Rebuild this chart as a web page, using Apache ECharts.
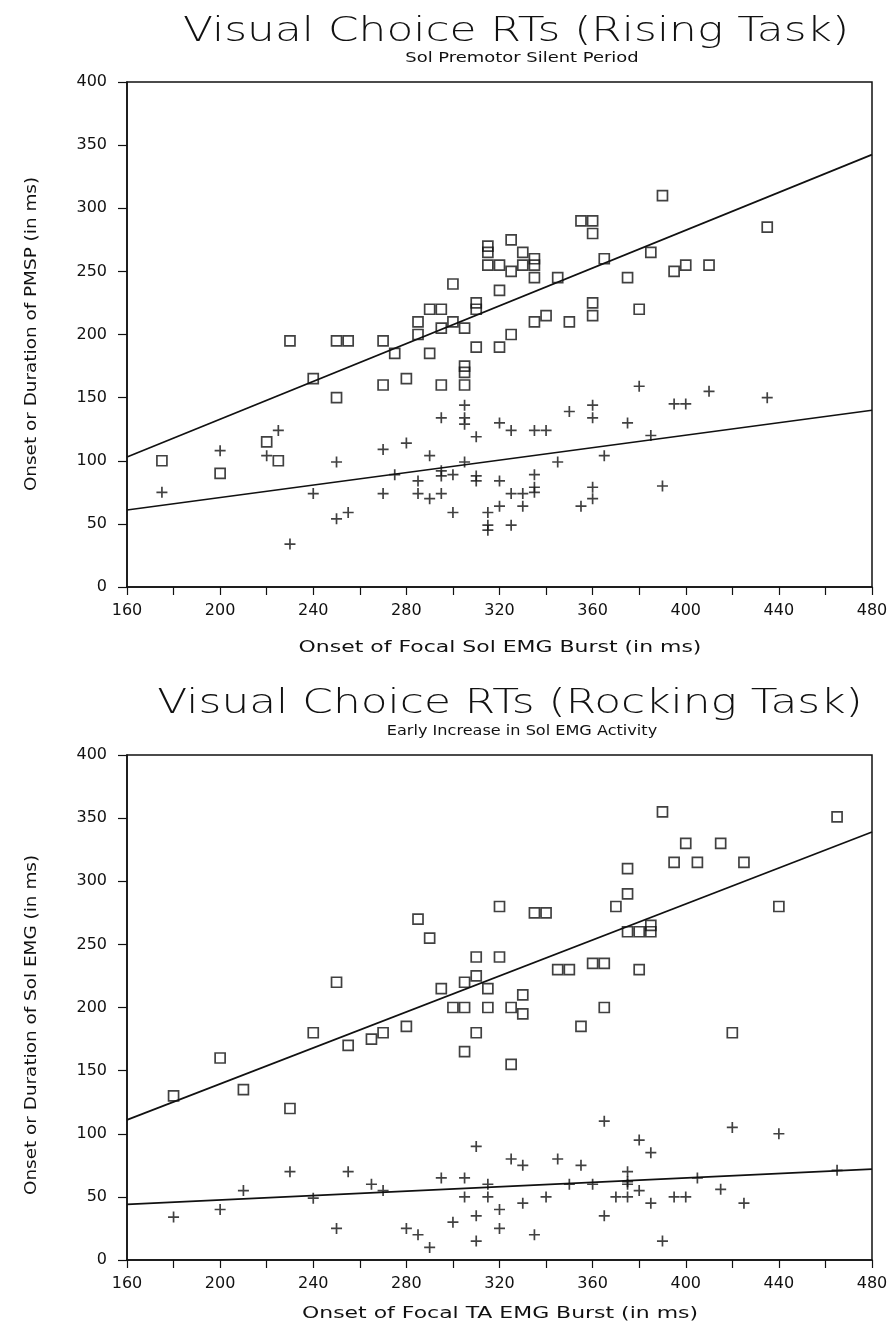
<!DOCTYPE html>
<html><head><meta charset="utf-8">
<script src="https://cdn.jsdelivr.net/npm/echarts@6/dist/echarts.min.js"></script>
<style>html,body{margin:0;padding:0;background:#fff}#c{width:893px;height:1328px}</style>
</head><body><div id="c"></div><script>
// ---------- data ----------
const xRange = [160, 480, 40];
const yRange = [0, 400, 50];

const risingTitle = 'Visual Choice RTs (Rising Task)';
const risingSubtitle = 'Sol Premotor Silent Period';
const risingXName = 'Onset of Focal Sol EMG Burst (in ms)';
const risingYName = 'Onset or Duration of PMSP (in ms)';

const rockingTitle = 'Visual Choice RTs (Rocking Task)';
const rockingSubtitle = 'Early Increase in Sol EMG Activity';
const rockingXName = 'Onset of Focal TA EMG Burst (in ms)';
const rockingYName = 'Onset or Duration of Sol EMG (in ms)';

const risingSquares = [
 [175,100],[200,90],[220,115],[225,100],[230,195],[240,165],[250,195],[255,195],[250,150],
 [270,195],[270,160],[275,185],[280,165],[285,210],[285,200],[290,220],[290,185],[295,220],
 [295,205],[295,160],[300,240],[300,210],[305,205],[305,175],[305,170],[305,160],[310,225],
 [310,220],[310,190],[315,270],[315,265],[315,255],[320,255],[320,235],[320,190],[325,275],
 [325,250],[325,200],[330,265],[330,255],[335,260],[335,255],[335,245],[335,210],[340,215],
 [345,245],[350,210],[355,290],[360,290],[360,280],[360,225],[360,215],[365,260],[375,245],
 [380,220],[385,265],[390,310],[395,250],[400,255],[410,255],[435,285]
];
const risingCrosses = [
 [175,75],[200,108],[220,104],[225,124],[230,34],[240,74],[250,99],[250,54],[255,59],
 [270,109],[270,74],[275,89],[280,114],[285,84],[285,74],[290,104],[290,70],[295,134],
 [295,92],[295,88],[295,74],[300,89],[300,59],[305,144],[305,134],[305,129],[305,99],
 [310,119],[310,88],[310,84],[315,59],[315,49],[315,45],[320,130],[320,84],[320,64],
 [325,124],[325,74],[325,49],[330,74],[330,64],[335,124],[335,89],[335,79],[335,75],
 [340,124],[345,99],[350,139],[355,64],[360,144],[360,134],[360,79],[360,70],[365,104],
 [375,130],[380,159],[385,120],[390,80],[395,145],[400,145],[410,155],[435,150]
];
const risingFitSquares = [[160,103],[480,342.5]];
const risingFitCrosses = [[160,61],[480,140]];

const rockingSquares = [
 [180,130],[200,160],[210,135],[230,120],[240,180],[250,220],[255,170],[265,175],[270,180],
 [280,185],[285,270],[290,255],[295,215],[300,200],[305,220],[305,200],[305,165],[310,240],
 [310,225],[310,180],[315,215],[315,200],[320,280],[320,240],[325,200],[325,155],[330,210],
 [330,195],[335,275],[340,275],[345,230],[350,230],[355,185],[360,235],[365,235],[365,200],
 [370,280],[375,310],[375,290],[375,260],[380,260],[380,230],[385,265],[385,260],[390,355],
 [395,315],[400,330],[405,315],[415,330],[420,180],[425,315],[440,280],[465,351]
];
const rockingCrosses = [
 [180,34],[200,40],[210,55],[230,70],[240,49],[250,25],[255,70],[265,60],[270,55],[280,25],
 [285,20],[290,10],[295,65],[300,30],[305,65],[305,50],[310,90],[310,35],[310,15],[315,60],
 [315,50],[320,40],[320,25],[325,80],[330,75],[330,45],[335,20],[340,50],[345,80],[350,60],
 [355,75],[360,60],[365,110],[365,35],[370,50],[375,70],[375,62],[375,60],[375,50],[380,95],
 [380,55],[385,85],[385,45],[390,15],[395,50],[400,50],[405,65],[415,56],[420,105],[425,45],
 [440,100],[465,71]
];
const rockingFitSquares = [[160,111],[480,339]];
const rockingFitCrosses = [[160,44],[480,72]];

// ---------- chart ----------
const INK = '#111';
const FONT = '"DejaVu Sans", sans-serif';
const PLUS = 'path://M0,5L10,5M5,0L5,10';

function xAxisFor(g) {
  return {
    type: 'value', gridIndex: g, min: xRange[0], max: xRange[1], interval: xRange[2],
    axisLine: { lineStyle: { color: INK, width: 1.5 } },
    axisTick: { length: 8, lineStyle: { color: INK, width: 1.2 } },
    minorTick: { show: true, splitNumber: 2, length: 8, lineStyle: { color: INK, width: 1.2 } },
    splitLine: { show: false }, minorSplitLine: { show: false },
    axisLabel: { color: INK, fontFamily: FONT, fontSize: 16, margin: 16 }
  };
}
function yAxisFor(g) {
  return {
    type: 'value', gridIndex: g, min: yRange[0], max: yRange[1], interval: yRange[2],
    axisLine: { lineStyle: { color: INK, width: 1.5 } },
    axisTick: { length: 9, lineStyle: { color: INK, width: 1.2 } },
    splitLine: { show: false },
    axisLabel: { color: INK, fontFamily: FONT, fontSize: 16, margin: 20 }
  };
}
function squares(data, g) {
  return { type: 'scatter', xAxisIndex: g, yAxisIndex: g, data: data, symbol: 'rect', symbolSize: 10,
    itemStyle: { color: 'transparent', borderColor: INK, borderWidth: 1.7 }, silent: true, z: 3 };
}
function crosses(data, g) {
  return { type: 'scatter', xAxisIndex: g, yAxisIndex: g, data: data, symbol: PLUS, symbolSize: 11,
    itemStyle: { color: 'transparent', borderColor: INK, borderWidth: 1.7 }, silent: true, z: 3 };
}
function fit(data, g) {
  return { type: 'line', xAxisIndex: g, yAxisIndex: g, data: data, symbol: 'none', silent: true,
    lineStyle: { color: INK, width: 1.7 }, z: 2 };
}
function label(text, x, y, font, wide, rot) {
  return { type: 'text', x: x, y: y, rotation: rot || 0, scaleX: wide, silent: true,
    style: { text: text, font: font, fill: INK, align: 'center', verticalAlign: 'middle' } };
}

const chart = echarts.init(document.getElementById('c'), null, { renderer: 'canvas' });
chart.setOption({
  animation: false,
  backgroundColor: '#fff',
  grid: [
    { left: 127, right: 21, top: 82, height: 505, show: true, borderColor: INK, borderWidth: 1.5 },
    { left: 127, right: 21, top: 755, height: 505, show: true, borderColor: INK, borderWidth: 1.5 }
  ],
  xAxis: [xAxisFor(0), xAxisFor(1)],
  yAxis: [yAxisFor(0), yAxisFor(1)],
  graphic: [
    label(risingTitle, 516, 32, '200 33px ' + FONT, 1.33),
    label(risingSubtitle, 522, 58, '14px ' + FONT, 1.28),
    label(risingXName, 500, 648, '16.5px ' + FONT, 1.33),
    label(risingYName, 32, 334, '16px ' + FONT, 1.15, Math.PI / 2),
    label(rockingTitle, 510, 704, '200 33px ' + FONT, 1.33),
    label(rockingSubtitle, 522, 731, '14px ' + FONT, 1.15),
    label(rockingXName, 500, 1314, '16.5px ' + FONT, 1.33),
    label(rockingYName, 32, 1025, '16px ' + FONT, 1.15, Math.PI / 2)
  ],
  series: [
    fit(risingFitSquares, 0), fit(risingFitCrosses, 0),
    squares(risingSquares, 0), crosses(risingCrosses, 0),
    fit(rockingFitSquares, 1), fit(rockingFitCrosses, 1),
    squares(rockingSquares, 1), crosses(rockingCrosses, 1)
  ]
});
</script></body></html>
